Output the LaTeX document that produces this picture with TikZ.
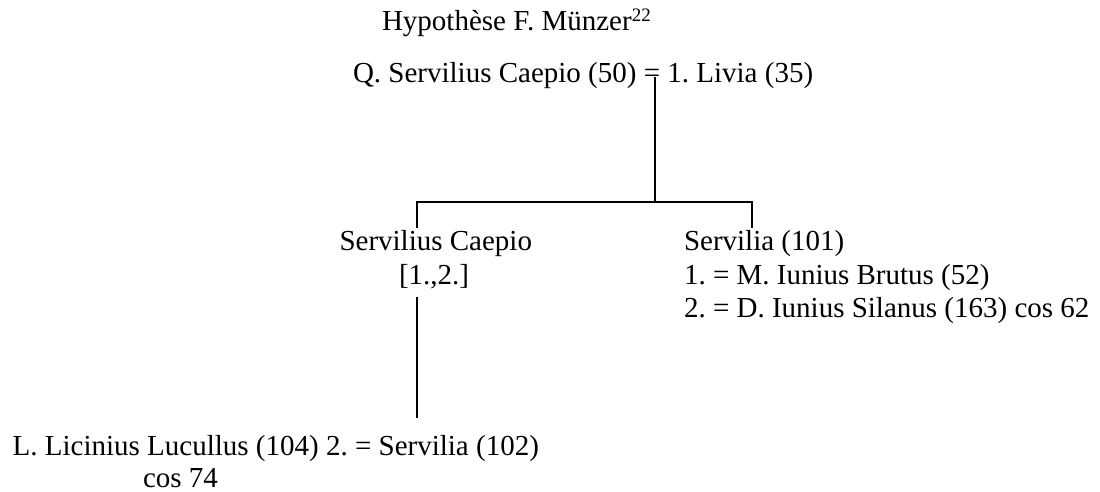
\documentclass[tikz,border=0pt]{standalone}
\usepackage{fontspec}
\setmainfont{Liberation Serif}
\begin{document}
\frenchspacing
\begin{tikzpicture}[x=1pt,y=-1pt,
  lbl/.style={inner sep=0pt, outer sep=0pt, anchor=base west, font=\fontsize{29}{34}\selectfont},
  conn/.style={line width=1.8pt}]
\useasboundingbox (0,0) rectangle (1100,492);
\node[lbl] (title) at (382,31) {Hypothèse F. Münzer\textsuperscript{\fontsize{19}{20}\selectfont 22}};
\node[lbl] (parents) at (353,83) {Q. Servilius Caepio (50) = 1. Livia (35)};
\coordinate (eq) at (655,77);
\coordinate (bar) at (655,202);
\node[lbl] (sc) at (339.5,250) {Servilius Caepio};
\node[lbl] (sc2) at (399,284) {[1.,2.]};
\node[lbl] (sv) at (684,250) {Servilia (101)};
\node[lbl] (sv1) at (684,284) {1. = M. Iunius Brutus (52)};
\node[lbl] (sv2) at (684,317) {2. = D. Iunius Silanus (163) cos 62};
\node[lbl] (ll) at (12.7,455) {L. Licinius Lucullus (104) 2. = Servilia (102)};
\node[lbl] (ll2) at (143,487) {cos 74};
\coordinate (lc) at (417,228);
\coordinate (rc) at (752,228);
\coordinate (scb) at (417,297);
\coordinate (llt) at (417,418);
\draw[conn] (eq) -- (bar);
\draw[conn] (lc) -- (lc |- bar) -- (rc |- bar) -- (rc);
\draw[conn] (scb) -- (llt);
\end{tikzpicture}
\end{document}
